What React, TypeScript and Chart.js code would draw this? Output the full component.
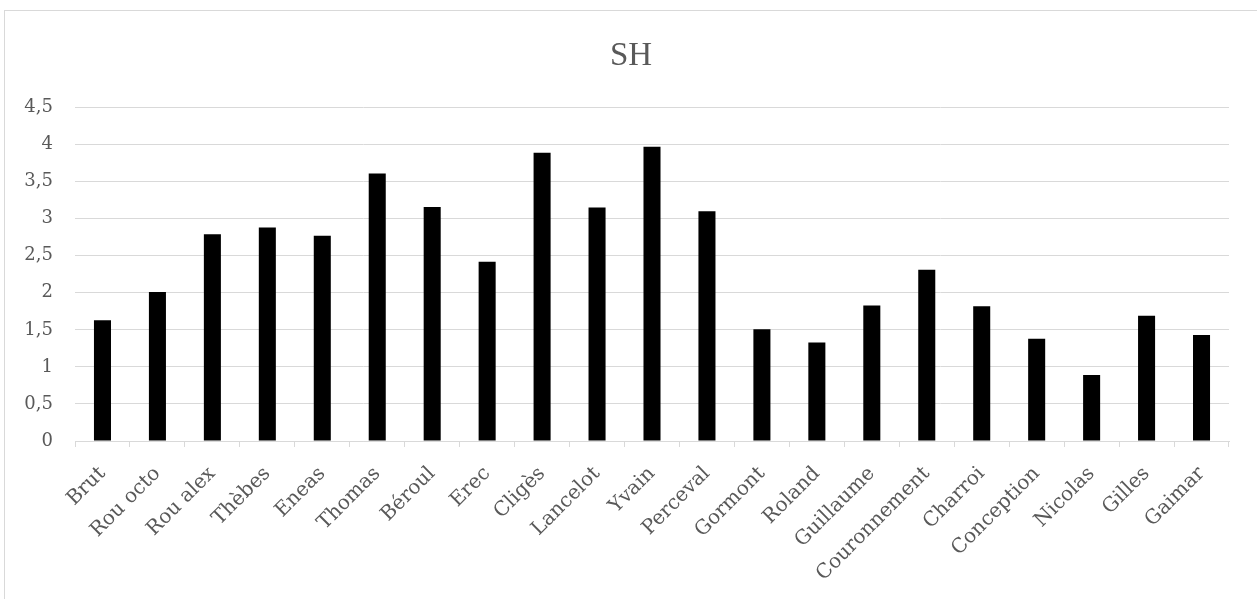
import React, { useEffect, useRef } from "react";
import { Chart, registerables } from "chart.js";

Chart.register(...registerables);

const categories = [
  "Brut", "Rou octo", "Rou alex", "Thèbes", "Eneas", "Thomas", "Béroul", "Erec",
  "Cligès", "Lancelot", "Yvain", "Perceval", "Gormont", "Roland", "Guillaume",
  "Couronnement", "Charroi", "Conception", "Nicolas", "Gilles", "Gaimar",
];
const shValues = [
  1.63, 2.01, 2.79, 2.88, 2.77, 3.61, 3.16, 2.42, 3.89, 3.15, 3.97, 3.10,
  1.51, 1.33, 1.83, 2.31, 1.82, 1.38, 0.89, 1.69, 1.43,
];
const chartTitle = "SH";
const yMin = 0;
const yMax = 4.5;
const yStep = 0.5;

export default function App() {
  const ref = useRef<HTMLCanvasElement | null>(null);

  useEffect(() => {
    if (!ref.current) return;
    const chart = new Chart(ref.current, {
      type: "bar",
      data: {
        labels: categories,
        datasets: [
          {
            label: chartTitle,
            data: shValues,
            backgroundColor: "#000000",
            borderColor: "#3a3a3a",
            borderWidth: 0,
            barPercentage: 0.31,
            categoryPercentage: 1,
            yAxisID: "y",
          },
        ],
      },
      options: {
        responsive: false,
        animation: false,
        layout: { padding: { left: 0, right: 0, top: 0, bottom: 0 } },
        plugins: {
          legend: { display: false },
          tooltip: { enabled: false },
          title: {
            display: true,
            text: chartTitle,
            color: "#595959",
            font: { family: "'Liberation Serif', serif", size: 33, weight: "normal" },
            padding: { top: 26, bottom: 31 },
          },
        },
        scales: {
          x: {
            grid: {
              offset: true,
              drawOnChartArea: false,
              drawTicks: true,
              tickLength: 6,
              color: "#d9d9d9",
            },
            border: { display: true, color: "#d9d9d9", width: 1 },
            ticks: {
              color: "#595959",
              font: { family: "'DejaVu Serif', serif", size: 20 },
              minRotation: 45,
              maxRotation: 45,
              autoSkip: false,
              padding: 15,
            },
            afterFit: (scale: any) => {
              scale.height = 158;
            },
          },
          y: {
            position: "left",
            min: yMin,
            max: yMax,
            grid: { color: "#d9d9d9", drawTicks: false, lineWidth: 1 },
            border: { display: false },
            ticks: {
              stepSize: yStep,
              color: "#595959",
              font: { family: "'DejaVu Serif', serif", size: 18 },
              padding: 22,
              callback: (v: any) => String(v).replace(".", ","),
            },
            afterFit: (scale: any) => {
              scale.width = 70;
            },
          },
          yRight: {
            position: "right",
            display: true,
            grid: { drawOnChartArea: false, drawTicks: false },
            border: { display: false },
            ticks: { display: false },
            afterFit: (scale: any) => {
              scale.width = 28;
            },
          },
        },
      },
    });
    return () => chart.destroy();
  }, []);

  return (
    <div
      style={{
        position: "absolute",
        left: 4,
        top: 10,
        width: 1253,
        height: 589,
        borderTop: "1px solid #d9d9d9",
        borderLeft: "1px solid #d9d9d9",
        background: "#ffffff",
        boxSizing: "border-box",
      }}
    >
      <canvas ref={ref} width={1252} height={588} style={{ display: "block", width: 1252, height: 588 }} />
    </div>
  );
}
